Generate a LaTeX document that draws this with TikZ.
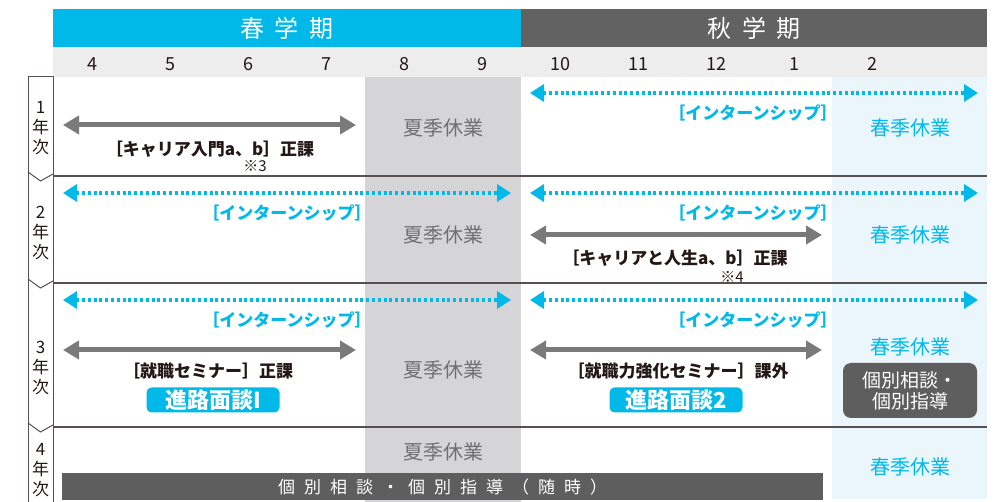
\documentclass[tikz,border=0pt]{standalone}
\usepackage{fontspec}
\setmainfont{Noto Sans CJK JP}
\usetikzlibrary{positioning,arrows.meta}
\definecolor{springc}{RGB}{0,185,233}
\definecolor{autumnc}{RGB}{98,98,98}
\definecolor{monthbg}{RGB}{237,237,237}
\definecolor{summerbg}{RGB}{213,213,215}
\definecolor{springbg}{RGB}{234,246,252}
\definecolor{arrowgray}{RGB}{122,122,122}
\definecolor{linec}{RGB}{88,80,78}
\definecolor{textc}{RGB}{35,24,21}
\definecolor{boxgray}{RGB}{94,94,94}
\definecolor{restgray}{RGB}{112,112,112}
\tikzset{
  term/.style={text=white, font=\fontsize{24}{26}\selectfont, inner sep=0pt},
  month/.style={text=textc, font=\fontsize{18}{20}\selectfont, inner sep=0pt},
  year/.style={text=textc, font=\fontsize{17}{20}\selectfont, align=center, inner sep=0pt},
  course/.style={text=textc, font=\fontsize{17}{20}\selectfont\bfseries, inner sep=0pt},
  intern/.style={text=springc, font=\fontsize{17}{20}\selectfont\bfseries, inner sep=0pt},
  note/.style={text=textc, font=\fontsize{15}{17}\selectfont, inner sep=0pt},
  summer/.style={text=restgray, font=\fontsize{20}{24}\selectfont, inner sep=0pt},
  springrest/.style={text=springc, font=\fontsize{20}{24}\selectfont, inner sep=0pt},
  talk/.style={fill=springc, text=white, rounded corners=5pt, font=\fontsize{22}{24}\selectfont\bfseries,
    minimum width=133pt, minimum height=25pt, inner sep=0pt},
  advice/.style={fill=boxgray, text=white, rounded corners=8pt, font=\fontsize{19}{21}\selectfont,
    minimum width=134pt, minimum height=55pt, align=center, inner sep=0pt},
  graybar/.style={{Triangle[length=16pt,width=18pt]}-{Triangle[length=16pt,width=18pt]}, arrowgray, line width=5pt},
  internbar/.style={{Triangle[length=14pt,width=17pt]}-{Triangle[length=14pt,width=17pt]}, springc,
    line width=3.5pt, dash pattern=on 3pt off 2.8pt}
}

\begin{document}
\begin{tikzpicture}[x=1pt,y=-1pt]
\useasboundingbox (0,0) rectangle (1004,502);
% terms and months
\fill[springc] (53,9) rectangle (521,47);
\fill[autumnc] (521,9) rectangle (987,47);
\node[term] (spring) at (287,28) {\spaceskip=11pt 春 学 期};
\node[term] (autumn) at (754,28) {\spaceskip=11pt 秋 学 期};
\fill[monthbg] (53,47) rectangle (987,77);
\foreach \m [count=\i] in {4,5,6,7,8,9,10,11,12,1,2}
  \node[month] (m\i) at (14+78*\i,64) {\m};
% vacations
\fill[summerbg] (365,77) rectangle (521,502);
\fill[springbg] (832,77) rectangle (987,499);
% rows and year tabs
\foreach \y in {176,283,427} {
  \draw[linec, line width=1.3pt] (53,\y) -- (987,\y);
  \draw[linec, line width=1pt] (28,\y-4) -- (40.5,\y+5) -- (53,\y-2);
}
\draw[linec, line width=1pt] (28,502) -- (28,77) -- (53,77) -- (53,502);
\foreach \t/\y in {1/128,2/233,3/368,4/470}
  \node[year] (y\t) at (40.5,\y) {\t\\年\\次};

% internships
\foreach \y [count=\r] in {93,193,300} {
  \coordinate (ira\r) at (530,\y);
  \coordinate (irb\r) at (978,\y);
  \draw[internbar] (ira\r) -- (irb\r);
  \node[intern] (irl\r) at (753,\y+20) {［インターンシップ］};
}
\foreach \y [count=\r] in {193,300} {
  \coordinate (ila\r) at (63,\y);
  \coordinate (ilb\r) at (511,\y);
  \draw[internbar] (ila\r) -- (ilb\r);
  \node[intern] (ill\r) at (287,\y+20) {［インターンシップ］};
}

% year 1
\coordinate (c1a) at (63,125);
\coordinate (c1b) at (356,125);
\draw[graybar] (c1a) -- (c1b);
\node[course] (career1) at (210,149) {［キャリア入門a、b］正課};
\node[note] (n3) at (255,166) {※3};

% year 2
\coordinate (c2a) at (530,235);
\coordinate (c2b) at (822,235);
\draw[graybar] (c2a) -- (c2b);
\node[course] (career2) at (675,258) {［キャリアと人生a、b］正課};
\node[note] (n4) at (732,277) {※4};

% year 3
\coordinate (c3a) at (63,350);
\coordinate (c3b) at (356,350);
\draw[graybar] (c3a) -- (c3b);
\coordinate (c4a) at (530,350);
\coordinate (c4b) at (822,350);
\draw[graybar] (c4a) -- (c4b);
\node[course] (job1) at (208,371) {［就職セミナー］正課};
\node[course] (job2) at (678,371) {［就職力強化セミナー］課外};
\node[talk] (talk1) at (213,400) {進路面談I};
\node[talk] (talk2) at (676,400) {進路面談2};
\node[advice] (advice3) at (910,390.5) {個別相談・\\個別指導};

% year 4
\node[fill=boxgray, text=white, font=\fontsize{17}{18}\selectfont, anchor=north west,
  minimum width=761pt, minimum height=27pt, inner sep=0pt] (always) at (62,473)
  {\spaceskip=9pt 個 別 相 談 ・ 個 別 指 導 （ 随 時 ）};

% vacation labels
\foreach \y [count=\r] in {128,235,370,452}
  \node[summer] (sv\r) at (443,\y) {夏季休業};
\foreach \y [count=\r] in {128,235,347,467}
  \node[springrest] (pv\r) at (910,\y) {春季休業};
\end{tikzpicture}
\end{document}
